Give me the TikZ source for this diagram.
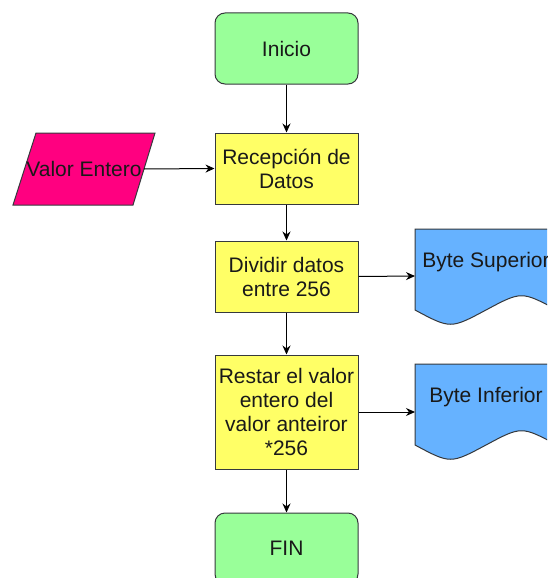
\documentclass[tikz,border=0pt]{standalone}
\usepackage{fontspec}
\setmainfont{Liberation Sans}
\usetikzlibrary{arrows.meta}
\definecolor{termgreen}{HTML}{99FF99}
\definecolor{procyellow}{HTML}{FFFF66}
\definecolor{inpink}{HTML}{FF0080}
\definecolor{docblue}{HTML}{66B2FF}
\definecolor{edgegray}{HTML}{36393D}
\begin{document}
\begin{tikzpicture}[x=1pt,y=-1pt,
  every node/.style={font=\fontsize{21}{24}\selectfont, text=black!90},
  procbox/.style={draw=edgegray, line width=1pt, fill=procyellow, minimum width=143pt, align=center, inner sep=0pt},
  termbox/.style={draw=edgegray, line width=1pt, fill=termgreen, minimum width=143pt, minimum height=71pt, rounded corners=10pt, inner sep=0pt},
  shapeline/.style={draw=edgegray, line width=1pt},
  conn/.style={draw=black, line width=1pt, -{Stealth[length=9pt,width=8pt]}}
]
\useasboundingbox (0,0) rectangle (547,578);
\clip (0,0) rectangle (547,578);
\fill[white] (0,0) rectangle (547,578);

% main column
\node[termbox] (ini) at (286.5,48.5) {Inicio};
\node[procbox, minimum height=71pt] (rec) at (286.5,168.5) {Recepción de\\Datos};
\node[procbox, minimum height=71pt] (div) at (286.5,276.5) {Dividir datos\\entre 256};
\node[procbox, minimum height=114pt] (res) at (286.5,412) {Restar el valor\\entero del\\valor anteiror\\*256};
\node[termbox] (fin) at (286.5,548.5) {FIN};

% input parallelogram
\coordinate (pa) at (36,133);
\coordinate (pb) at (155,133);
\coordinate (pc) at (133,205);
\coordinate (pd) at (13,205);
\coordinate (pe) at (144,169);
\path[shapeline, fill=inpink] (pa) -- (pb) -- (pc) -- (pd) -- cycle;
\node (val) at (84,169) {Valor Entero};

% documents
\path[shapeline, fill=docblue] (415,229) -- (557,229) -- (557,310)
  .. controls (521.5,291) .. (486,310)
  .. controls (450.5,329) .. (415,310) -- cycle;
\coordinate (d1) at (415,276);
\node (sup) at (486,262) {Byte Superior};

\path[shapeline, fill=docblue] (415,364) -- (557,364) -- (557,445)
  .. controls (521.5,426) .. (486,445)
  .. controls (450.5,464) .. (415,445) -- cycle;
\coordinate (d2) at (415,412);
\node (inf) at (486,397.5) {Byte Inferior};

% connectors
\draw[conn] (ini) -- (rec);
\draw[conn] (rec) -- (div);
\draw[conn] (div) -- (res);
\draw[conn] (res) -- (fin);
\draw[conn] (pe) -- (rec.west);
\draw[conn] (div.east) -- (d1);
\draw[conn] (res.east) -- (d2);
\end{tikzpicture}
\end{document}
